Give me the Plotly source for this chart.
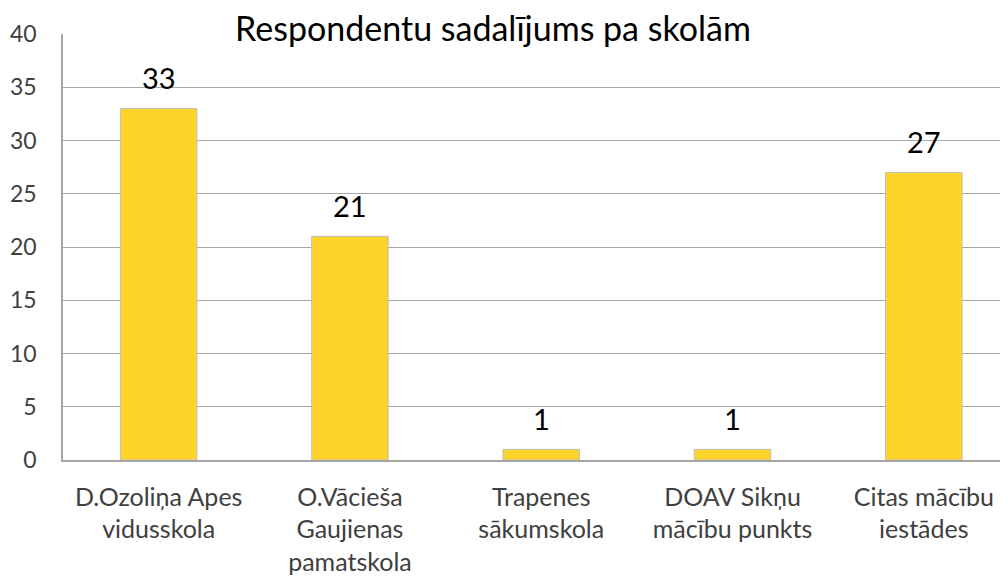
import plotly.graph_objects as go

categories = [
    "D.Ozoliņa Apes<br>vidusskola",
    "O.Vācieša<br>Gaujienas<br>pamatskola",
    "Trapenes<br>sākumskola",
    "DOAV Sikņu<br>mācību punkts",
    "Citas mācību<br>iestādes",
]
values = [33, 21, 1, 1, 27]
y_ticks = [0, 5, 10, 15, 20, 25, 30, 35, 40]
title_text = "Respondentu sadalījums pa skolām"

FONT = "Lato"
W, H = 1000, 570

fig = go.Figure()
fig.add_trace(go.Bar(
    x=categories,
    y=values,
    marker=dict(color="#FFD42A", line=dict(color="#BFBFBF", width=1)),
    width=0.40,
    hoverinfo="skip",
))

for c, v in zip(categories, values):
    fig.add_annotation(
        x=c, y=v, text=str(v), showarrow=False,
        yanchor="middle", yshift=31,
        font=dict(family=FONT, size=29, color="#000000"),
    )

fig.update_layout(
    width=W, height=H,
    margin=dict(l=55, r=0, t=26, b=118),
    paper_bgcolor="white", plot_bgcolor="white",
    showlegend=False,
    title=dict(
        text=title_text,
        x=485 / W, xanchor="center", xref="container",
        y=1 - 21 / H, yanchor="middle", yref="container",
        font=dict(family=FONT, size=34, color="#000000"),
    ),
    font=dict(family=FONT, color="#404040"),
)

fig.update_yaxes(
    range=[0, 40],
    tickvals=y_ticks,
    automargin=False,
    showgrid=True, gridcolor="#A6A6A6", gridwidth=1,
    showline=True, linecolor="#A6A6A6", linewidth=1.5,
    zeroline=False,
    ticks="outside", ticklen=20, tickcolor="rgba(0,0,0,0)",
    tickfont=dict(family=FONT, size=23, color="#404040"),
)
fig.update_xaxes(
    automargin=False,
    range=[-0.5, 4.44],
    showline=True, linecolor="#A6A6A6", linewidth=1.5,
    showgrid=False,
    ticks="outside", ticklen=14, tickcolor="rgba(0,0,0,0)",
    tickfont=dict(family=FONT, size=25, color="#404040"),
    tickangle=0,
)

fig.write_html("out.html")
